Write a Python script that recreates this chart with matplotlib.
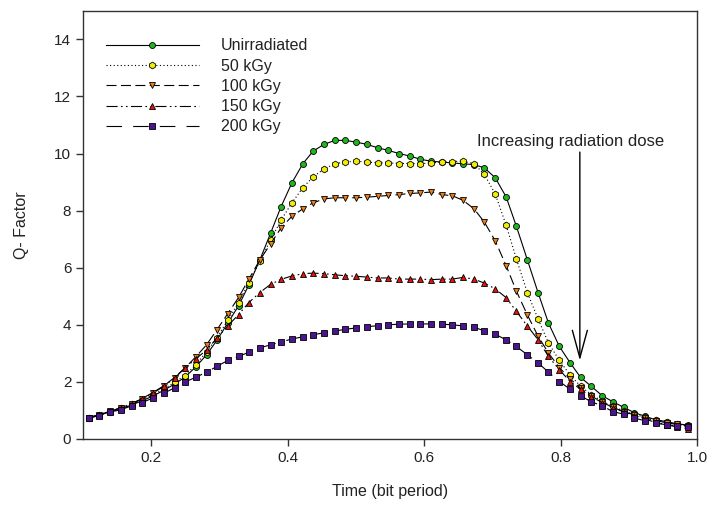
import matplotlib
matplotlib.use("Agg")
import matplotlib.pyplot as plt

plt.rcParams['font.family'] = ['Liberation Sans', 'DejaVu Sans']
plt.rcParams['text.color'] = '#222222'
plt.rcParams['axes.labelcolor'] = '#222222'
plt.rcParams['xtick.labelcolor'] = '#222222'
plt.rcParams['ytick.labelcolor'] = '#222222'

# sample positions (bit period)
time = [0.108, 0.124, 0.139, 0.155, 0.171, 0.186, 0.202, 0.218, 0.234, 0.249,
        0.265, 0.281, 0.296, 0.312, 0.328, 0.343, 0.359, 0.375, 0.390, 0.406,
        0.422, 0.437, 0.453, 0.469, 0.484, 0.500, 0.516, 0.532, 0.547, 0.563,
        0.579, 0.594, 0.610, 0.626, 0.641, 0.657, 0.673, 0.688, 0.704, 0.720,
        0.735, 0.751, 0.767, 0.782, 0.798, 0.814, 0.829, 0.845, 0.861, 0.876,
        0.892, 0.908, 0.923, 0.939, 0.955, 0.970, 0.986]

q_unirr = [0.73, 0.83, 0.95, 1.05, 1.19, 1.33, 1.50, 1.70, 1.92,
           2.16, 2.52, 2.95, 3.45, 4.06, 4.67, 5.40, 6.27,
           7.22, 8.13, 8.97, 9.64, 10.08, 10.32, 10.46, 10.46, 10.40, 10.32, 10.20, 10.11, 10.00, 9.91, 9.80, 9.73,
           9.70, 9.67, 9.64, 9.61, 9.50, 9.15, 8.48, 7.45, 6.28, 5.11,
           4.06, 3.24, 2.66, 2.16, 1.84, 1.51, 1.31, 1.11, 0.92, 0.80, 0.67, 0.61, 0.53, 0.49]

q_50 = [0.74, 0.84, 0.96, 1.07, 1.21, 1.36, 1.54, 1.75, 1.98,
        2.22, 2.60, 3.05, 3.55, 4.15, 4.78,
        5.48, 6.22, 6.98, 7.66, 8.27, 8.80, 9.18, 9.46, 9.64, 9.70, 9.73, 9.70, 9.67, 9.67, 9.65, 9.65, 9.64, 9.67,
        9.70, 9.72, 9.73, 9.64,
        9.27, 8.58, 7.49, 6.31, 5.13, 4.19, 3.36, 2.75, 2.23, 1.85,
        1.55, 1.32, 1.15, 0.99, 0.86, 0.76, 0.66, 0.58, 0.52, 0.46]

q_100 = [0.75, 0.85, 0.97, 1.09, 1.24, 1.41, 1.62, 1.86, 2.15, 2.48,
         2.87, 3.30, 3.82, 4.39, 4.96, 5.60, 6.27,
         6.84, 7.39, 7.80, 8.06, 8.27, 8.41, 8.45, 8.45, 8.45, 8.47, 8.50, 8.53, 8.56, 8.60, 8.62, 8.65,
         8.56, 8.52, 8.36, 8.06, 7.60, 6.94, 6.07, 5.18, 4.35, 3.59, 3.01,
         2.50, 2.10, 1.78, 1.50, 1.28, 1.11, 0.96, 0.84, 0.74, 0.64, 0.57, 0.51, 0.45]

q_150 = [0.75, 0.85, 0.97, 1.09, 1.23, 1.39, 1.60, 1.84, 2.13,
         2.48, 2.80, 3.12, 3.53, 3.96, 4.36, 4.78, 5.13, 5.42, 5.59, 5.71, 5.79,
         5.81, 5.79, 5.75, 5.72, 5.70, 5.67, 5.64, 5.64, 5.60, 5.60, 5.60, 5.58, 5.60, 5.60, 5.66, 5.60, 5.46,
         5.26, 4.95, 4.47, 3.96, 3.47, 2.89, 2.42, 2.01, 1.74, 1.48, 1.27, 1.10, 0.95, 0.82, 0.70, 0.58, 0.50, 0.42, 0.36]

q_200 = [0.73, 0.82, 0.94, 1.02, 1.16, 1.27, 1.43, 1.60, 1.79, 1.99,
         2.16, 2.34, 2.54, 2.75, 2.89, 3.04, 3.19, 3.30, 3.40, 3.50,
         3.58, 3.65, 3.72, 3.78, 3.84, 3.89, 3.93, 3.97, 4.00, 4.02,
         4.03, 4.03, 4.03, 4.02, 4.00, 3.96, 3.91, 3.79, 3.67, 3.47,
         3.24, 2.95, 2.66, 2.34, 2.01, 1.74, 1.51, 1.30, 1.16, 0.96,
         0.87, 0.73, 0.64, 0.55, 0.50, 0.46, 0.43]

labels = ['Unirradiated', '50 kGy', '100 kGy', '150 kGy', '200 kGy']
series = [q_unirr, q_50, q_100, q_150, q_200]
colors = ['#1fb51f', '#f2ee00', '#ee7d12', '#e3140f', '#4b1590']
markers = ['o', 'h', 'v', '^', 's']
msizes = [4.3, 4.8, 5.0, 5.0, 4.8]
styles = ['-', (0, (1, 2.2)), (0, (9, 4)), (0, (10, 3, 1.5, 3, 1.5, 3)), (0, (14, 10))]

fig = plt.figure(figsize=(7.1, 5.14), dpi=100)
ax = fig.add_axes([0.117, 0.146, 0.865, 0.833])

for q, lab, c, m, ms, ls in zip(series, labels, colors, markers, msizes, styles):
    ax.plot(time, q, color='black', lw=0.8, linestyle=ls, marker=m, markersize=ms,
            markerfacecolor=c, markeredgecolor='black', markeredgewidth=0.6, label=lab)

ax.set_xlim(0.1, 1.0)
ax.set_ylim(0, 15)
ax.set_xticks([0.2, 0.4, 0.6, 0.8, 1.0])
ax.set_xticklabels(['0.2', '0.4', '0.6', '0.8', '1.0'])
ax.set_yticks([0, 2, 4, 6, 8, 10, 12, 14])
ax.tick_params(direction='out', length=5, width=1, labelsize=11, color='#333333')
for s in ax.spines.values():
    s.set_linewidth(1.0)
    s.set_color('#333333')

ax.set_xlabel('Time (bit period)', fontsize=11.5, labelpad=14)
ax.set_ylabel('Q- Factor', fontsize=11.5, labelpad=18)

ax.legend(loc='upper left', bbox_to_anchor=(0.022, 0.958), frameon=False, fontsize=11.5,
          handlelength=5.8, handletextpad=1.4, labelspacing=0.33, numpoints=1,
          borderaxespad=0.2)

ax.annotate('', xy=(0.828, 2.75), xytext=(0.828, 10.05),
            arrowprops=dict(arrowstyle='->,head_length=2.2,head_width=0.6', color='black',
                            lw=1.0, shrinkA=0, shrinkB=0), fontsize=9)
ax.text(0.814, 10.42, 'Increasing radiation dose', ha='center', va='center', fontsize=12)

fig.savefig('out.png', dpi=100)
